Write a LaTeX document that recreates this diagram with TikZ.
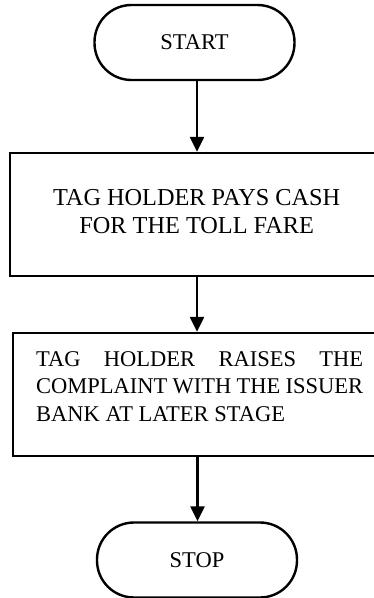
\documentclass[tikz,border=0pt]{standalone}
\usepackage{fontspec}
\setmainfont{Liberation Serif}
\usetikzlibrary{arrows.meta}
\begin{document}
\begin{tikzpicture}[x=1pt,y=-1pt,
  every node/.style={line width=2.4pt},
  terminal/.style={draw, rectangle, rounded corners=37pt, inner sep=0pt,
    minimum width=200pt, minimum height=75pt,
    font=\fontsize{22.5}{27}\selectfont},
  process/.style={draw, rectangle, inner sep=0pt, minimum height=123pt},
  flowtext/.style={inner sep=0pt},
  flow/.style={line width=2.4pt, -{Triangle[length=15pt,width=14pt]}}]
\clip (0,0) rectangle (374,598);

% terminals
\node[terminal] (start) at (194.5,42.5) {START};
\node[terminal] (stop) at (197,560) {STOP};

% process boxes (their right sides run past the page edge)
\node[process, minimum width=370pt] (pay) at (195,214.5) {};
\node[process, minimum width=367.3pt] (raise) at (196.35,394.5) {};

% box texts
\node[flowtext, anchor=north, align=center,
  font=\fontsize{24.3}{28.5}\selectfont] (paytext) at (196.7,188)
  {TAG HOLDER PAYS CASH\\FOR THE TOLL FARE};
\node[flowtext, anchor=north west, align=left,
  font=\fontsize{22.5}{27.5}\selectfont] (raisetext) at (35,350)
  {\makebox[327pt][s]{TAG HOLDER RAISES THE}\\
   \makebox[327pt][s]{COMPLAINT WITH THE ISSUER}\\
   BANK AT LATER STAGE};

% connectors along the centre line
\coordinate (spine) at (197,0);
\draw[flow] (start.south -| spine) -- (pay.north -| spine);
\draw[flow] (pay.south -| spine) -- (raise.north -| spine);
\draw[flow] ([xshift=0.5pt]raise.south -| spine) -- ([xshift=0.5pt]stop.north -| spine);
\end{tikzpicture}
\end{document}
